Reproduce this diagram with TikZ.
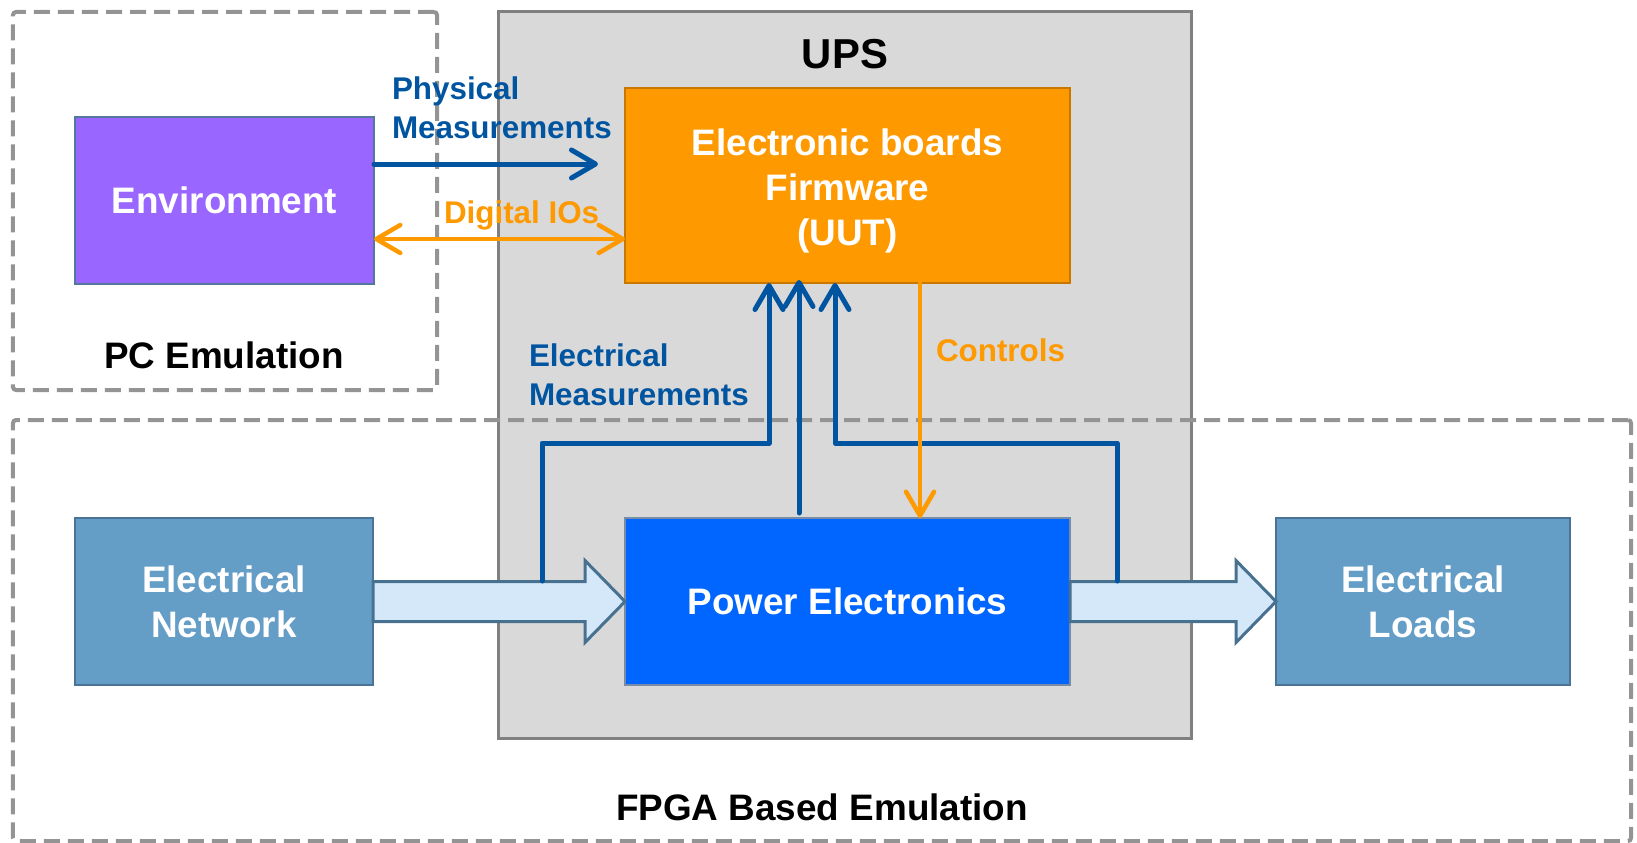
\documentclass[tikz,border=0pt]{standalone}
\usepackage{fontspec}
\setmainfont{Liberation Sans}
\usetikzlibrary{arrows.meta,calc}
\definecolor{meascol}{RGB}{0,84,160}
\definecolor{ctrlcol}{RGB}{255,153,0}
\definecolor{envfill}{RGB}{153,102,255}
\definecolor{envline}{RGB}{84,120,155}
\definecolor{fwline}{RGB}{200,120,0}
\definecolor{pefill}{RGB}{0,102,255}
\definecolor{peline}{RGB}{120,140,165}
\definecolor{netfill}{RGB}{100,157,198}
\definecolor{netline}{RGB}{74,115,150}
\definecolor{barrowfill}{RGB}{213,232,250}
\definecolor{barrowline}{RGB}{72,113,143}
\definecolor{upsfill}{RGB}{217,217,217}
\definecolor{upsline}{RGB}{128,128,128}
\definecolor{dashcol}{RGB}{148,148,148}
\begin{document}
\begin{tikzpicture}[x=1bp,y=-1bp,
  every node/.style={inner sep=0pt, outer sep=0pt},
  zone/.style={draw=dashcol, line width=4bp, dash pattern=on 16bp off 8bp, rounded corners=3bp, rectangle},
  blk/.style={rectangle, line width=2bp, font=\fontsize{37}{45}\selectfont\bfseries, text=white, align=center},
  title/.style={font=\fontsize{37}{45}\selectfont\bfseries, text=black},
  lbl/.style={font=\fontsize{31.5}{38.5}\selectfont\bfseries, align=left},
  meas/.style={draw=meascol, line width=5bp, line cap=round, line join=round},
  ctrl/.style={draw=ctrlcol, line width=4.5bp, line cap=round},
  barb/.tip={Straight Barb[length=24bp, width=28bp, round]},
  blockarrow/.style={draw=barrowline, fill=barrowfill, line width=3bp, line join=miter}
]
\useasboundingbox (0,0) rectangle (1637,842);

% UPS box
\node[rectangle, draw=upsline, fill=upsfill, line width=3bp, minimum width=693bp, minimum height=726bp] (ups) at (844.5,375) {};
\node[font=\fontsize{42}{50}\selectfont\bfseries] (upst) at (845,54) {UPS};

% dashed zones
\node[zone, minimum width=424bp, minimum height=378bp] (pc) at (225,201) {};
\node[zone, minimum width=1618bp, minimum height=421bp] (fpga) at (822,630.5) {};
\node[title] (pct) at (224,355) {PC Emulation};
\node[title] (fpgat) at (822,807) {FPGA Based Emulation};

% blocks
\node[blk, draw=envline, fill=envfill, minimum width=299bp, minimum height=167bp] (env) at (224.5,200.5) {Environment};
\node[blk, draw=fwline, fill=ctrlcol, minimum width=445bp, minimum height=195bp] (fw) at (847.5,185.5) {\rule{0pt}{37bp}Electronic boards\\Firmware\\(UUT)};
\node[blk, draw=peline, fill=pefill, minimum width=445bp, minimum height=167bp] (pe) at (847.5,601.5) {Power Electronics};
\node[blk, draw=netline, fill=netfill, minimum width=298bp, minimum height=167bp] (en) at (224,601.5) {Electrical\\Network};
\node[blk, draw=netline, fill=netfill, minimum width=294bp, minimum height=167bp] (el) at (1423,601.5) {Electrical\\Loads};

% block arrows
\draw[blockarrow] ($(en.east)+(0,-20)$) -- ($(pe.west)+(-40,-20)$) -- ($(pe.west)+(-40,-41)$) -- (pe.west) -- ($(pe.west)+(-40,41)$) -- ($(pe.west)+(-40,20)$) -- ($(en.east)+(0,20)$) -- cycle;
\draw[blockarrow] ($(pe.east)+(0,-20)$) -- ($(el.west)+(-40,-20)$) -- ($(el.west)+(-40,-41)$) -- (el.west) -- ($(el.west)+(-40,41)$) -- ($(el.west)+(-40,20)$) -- ($(pe.east)+(0,20)$) -- cycle;

% measurement connectors
\coordinate (hl) at (0,443);
\coordinate (m1) at (542,581);
\coordinate (m3) at (1117,581);
\draw[meas, -barb] (m1) -- (m1 |- hl) -| ($(fw.south)+(-78.5,0)$);
\draw[meas, -barb] ($(pe.north)+(-48.5,-5)$) -- ($(fw.south)+(-48.5,-3)$);
\draw[meas, -barb] (m3) -- (m3 |- hl) -| ($(fw.south)+(-12.5,0)$);
\draw[ctrl, -barb] ($(fw.south)+(72.5,0)$) -- ($(pe.north)+(72.5,0)$);

\draw[meas, -barb] ($(env.east)+(0,-36.5)$) -- ($(fw.west)+(-27,-21.5)$);
\draw[ctrl, barb-barb] ($(env.east)+(0,38.5)$) -- ($(fw.west)+(0,53.5)$);

% labels
\node[lbl, text=meascol, anchor=base west] (pml) at (392,138) {Physical\\Measurements};
\node[lbl, text=ctrlcol, anchor=base west] (dio) at (444,223) {Digital IOs};
\node[lbl, text=meascol, anchor=base west] (eml) at (529,405) {Electrical\\Measurements};
\node[lbl, text=ctrlcol, anchor=base west] (ctl) at (936,361) {Controls};
\end{tikzpicture}
\end{document}
